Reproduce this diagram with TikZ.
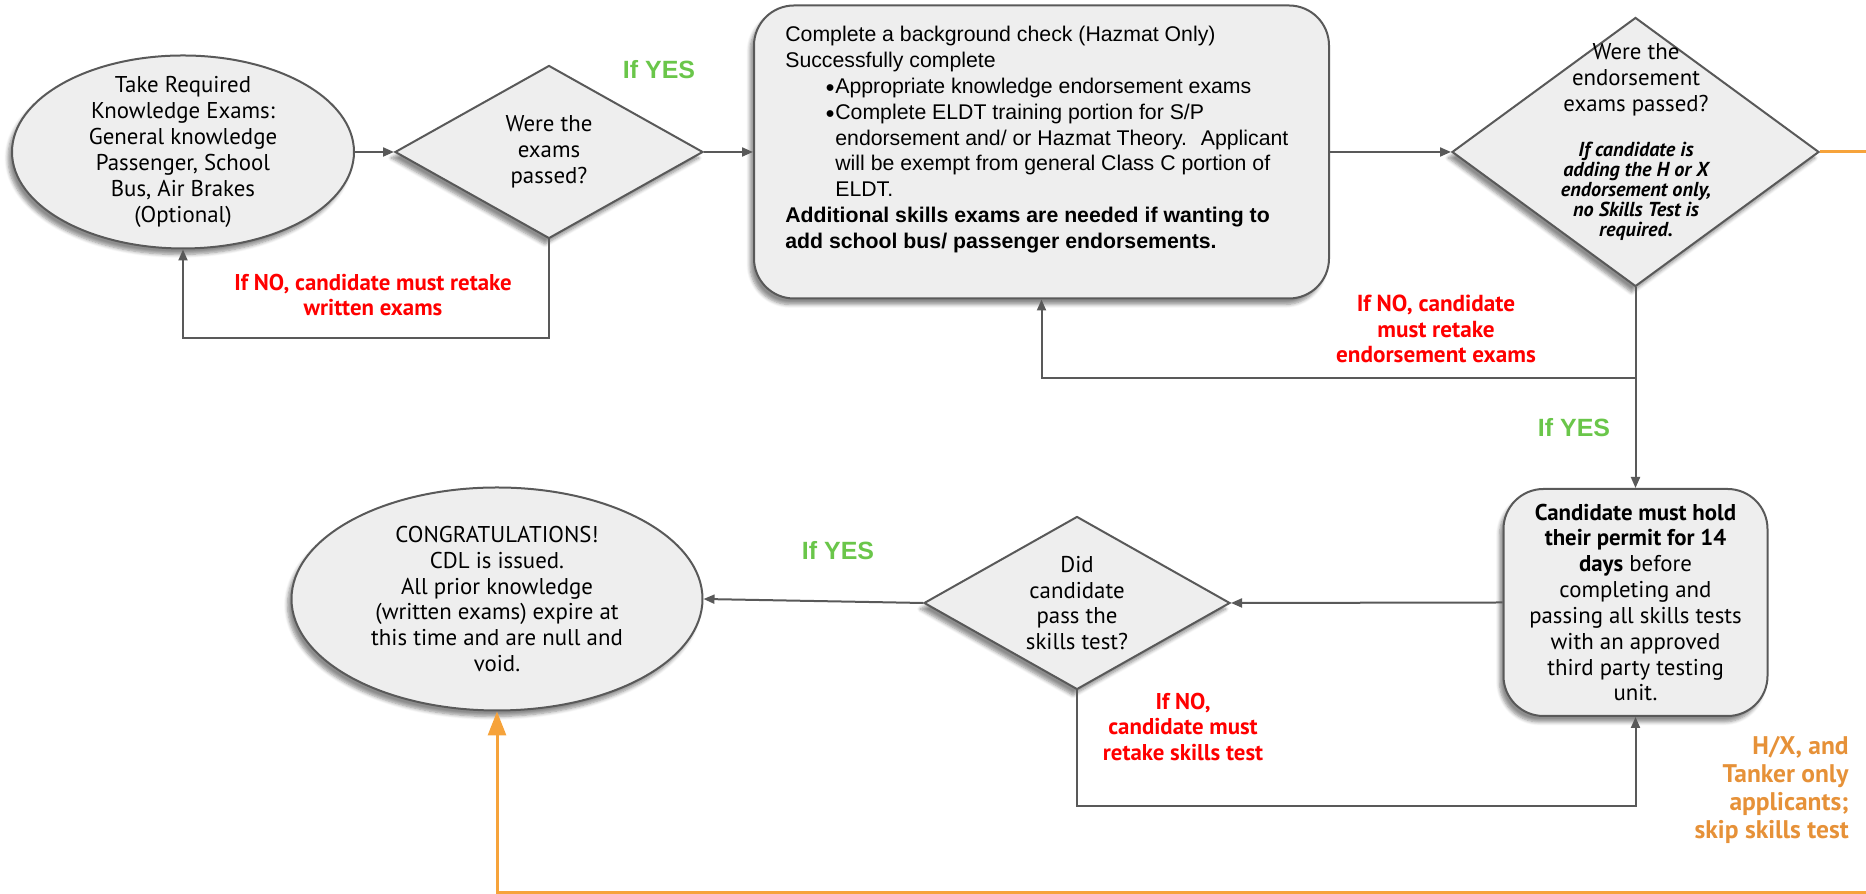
\documentclass[tikz,border=0pt]{standalone}
\usepackage{fontspec}
\setmainfont{PT Sans}
\newfontfamily\arialfont{Liberation Sans}
\usepackage{tikz}
\usetikzlibrary{shapes,arrows.meta,positioning,calc,shadows.blur}

\definecolor{boxfill}{HTML}{EEEEEE}
\definecolor{edgegray}{HTML}{595959}
\definecolor{yesgreen}{RGB}{106,198,74}
\definecolor{skiporange}{RGB}{246,163,59}
\definecolor{noteorange}{RGB}{230,145,56}

\newcommand{\bulletmark}{\makebox[0.2cm][l]{\raisebox{0.05em}{\fontsize{9}{9}\selectfont ●}}}

\tikzset{
  shadowed/.style={blur shadow={shadow xshift=-0.08cm,shadow yshift=-0.12cm,shadow blur steps=6,shadow opacity=45}},
  oval/.style={ellipse,draw=edgegray,fill=boxfill,line width=0.04cm,inner sep=0pt,shadowed},
  decision/.style={diamond,draw=edgegray,fill=boxfill,line width=0.04cm,inner sep=0pt,shadowed},
  panel/.style={rectangle,rounded corners=0.8cm,draw=edgegray,fill=boxfill,line width=0.04cm,inner sep=0pt,align=center,shadowed},
  flow/.style={draw=edgegray,line width=0.04cm,-{Triangle[length=0.22cm,width=0.18cm]}},
  skipline/.style={draw=skiporange,line width=0.06cm,-{Triangle[length=0.48cm,width=0.36cm]}},
  yeslabel/.style={text=yesgreen,font=\arialfont\bfseries\fontsize{14.2}{17}\selectfont},
  nolabel/.style={text=red,align=center,font=\bfseries\fontsize{13}{14.5}\selectfont},
  orangenote/.style={text=noteorange,align=right,inner sep=0pt,font=\bfseries\fontsize{14.5}{15.9}\selectfont}
}

\begin{document}
\begin{tikzpicture}[font=\fontsize{13}{14.7}\selectfont]
% Frame
\useasboundingbox (0,0) rectangle (37.32,17.88);
\clip (0,0) rectangle (37.32,17.88);

% Knowledge exams
\node[oval,minimum width=6.84cm,minimum height=3.86cm] (take) at (3.66,14.84) {};
\node[align=center] (take text) at (take) {Take Required\\Knowledge Exams:\\General knowledge\\Passenger, School\\Bus, Air Brakes\\(Optional)};
\node[decision,minimum width=6.16cm,minimum height=3.46cm] (passed) at (10.98,14.84) {};
\node[align=center] (passed text) at (passed) {Were the\\exams\\passed?};

% Endorsements
\node[panel,minimum width=11.5cm,minimum height=5.86cm] (endorse) at (20.83,14.84) {};
\node[anchor=north west,align=left,inner sep=0pt,font=\arialfont\fontsize{12.1}{14.7}\selectfont] (endorse text) at (15.70,17.36) {Complete a background check (Hazmat Only)\\
Successfully complete\\
\hspace*{0.8cm}\bulletmark Appropriate knowledge endorsement exams\\
\hspace*{0.8cm}\bulletmark Complete ELDT training portion for S/P\\
\hspace*{1.0cm}endorsement and/ or Hazmat Theory.~ Applicant\\
\hspace*{1.0cm}will be exempt from general Class C portion of\\
\hspace*{1.0cm}ELDT.\\
\textbf{Additional skills exams are needed if wanting to}\\
\textbf{add school bus/ passenger endorsements.}};
\node[decision,minimum width=7.34cm,minimum height=5.38cm] (endpass) at (32.71,14.84) {};
\node[align=center] (endpass text) at (32.72,16.28) {Were the\\endorsement\\exams passed?};
\node[align=center,font=\bfseries\itshape\fontsize{11.5}{11.4}\selectfont] (endpass note) at (32.72,14.05) {If candidate is\\adding the H or X\\endorsement only,\\no Skills Test is\\required.};

% Skills test
\node[panel,minimum width=5.28cm,minimum height=4.54cm] (permit) at (32.71,5.83) {\textbf{Candidate must hold}\\\textbf{their permit for 14}\\\textbf{days} before\\completing and\\passing all skills tests\\with an approved\\third party testing\\unit.};
\node[decision,minimum width=6.12cm,minimum height=3.46cm] (skills) at (21.54,5.82) {};
\node[align=center] (skills text) at (skills) {Did\\candidate\\pass the\\skills test?};
\node[oval,minimum width=8.22cm,minimum height=4.46cm] (cdl) at (9.94,5.90) {};
\node[align=center] (cdl text) at (cdl) {CONGRATULATIONS!\\CDL is issued.\\All prior knowledge\\(written exams) expire at\\this time and are null and\\void.};

% Connectors
\draw[flow] (take.east) -- (passed.west);
\draw[flow] (passed.east) -- (endorse.west);
\draw[flow] (endorse.east) -- (endpass.west);
\draw[flow] (passed.south) -- ++(0,-1.98) -| (take.south);
\coordinate (split) at ($(endpass.south)+(0,-1.82)$);
\draw[flow] (endpass.south) -- (permit.north);
\draw[flow] (split) -| (endorse.south);
\draw[flow] (permit.west) -- (skills.east);
\draw[flow] (skills.west) -- (cdl.east);
\draw[flow] (skills.south) -- ++(0,-2.32) -| (permit.south);
\coordinate (offpage) at (38.5,14.84);
\draw[skipline] (endpass.east) -- (offpage) |- ($(cdl.south)+(0,-3.62)$) -- (cdl.south);

% Labels
\node[yeslabel] (yes top) at (13.18,16.48) {If YES};
\node[yeslabel] (yes right) at (31.48,9.32) {If YES};
\node[yeslabel] (yes bottom) at (16.76,6.86) {If YES};
\node[nolabel] (no written) at (7.46,11.98) {If NO, candidate must retake\\written exams};
\node[nolabel,font=\bfseries\fontsize{13.2}{14.7}\selectfont] (no endorse) at (28.72,11.30) {If NO, candidate\\must retake\\endorsement exams};
\node[nolabel] (no skills) at (23.66,3.34) {If NO,\\candidate must\\retake skills test};
\node[orangenote,anchor=east] (skip info) at (36.98,2.08) {H/X, and\\Tanker only\\applicants;\\skip skills test};
\end{tikzpicture}
\end{document}
